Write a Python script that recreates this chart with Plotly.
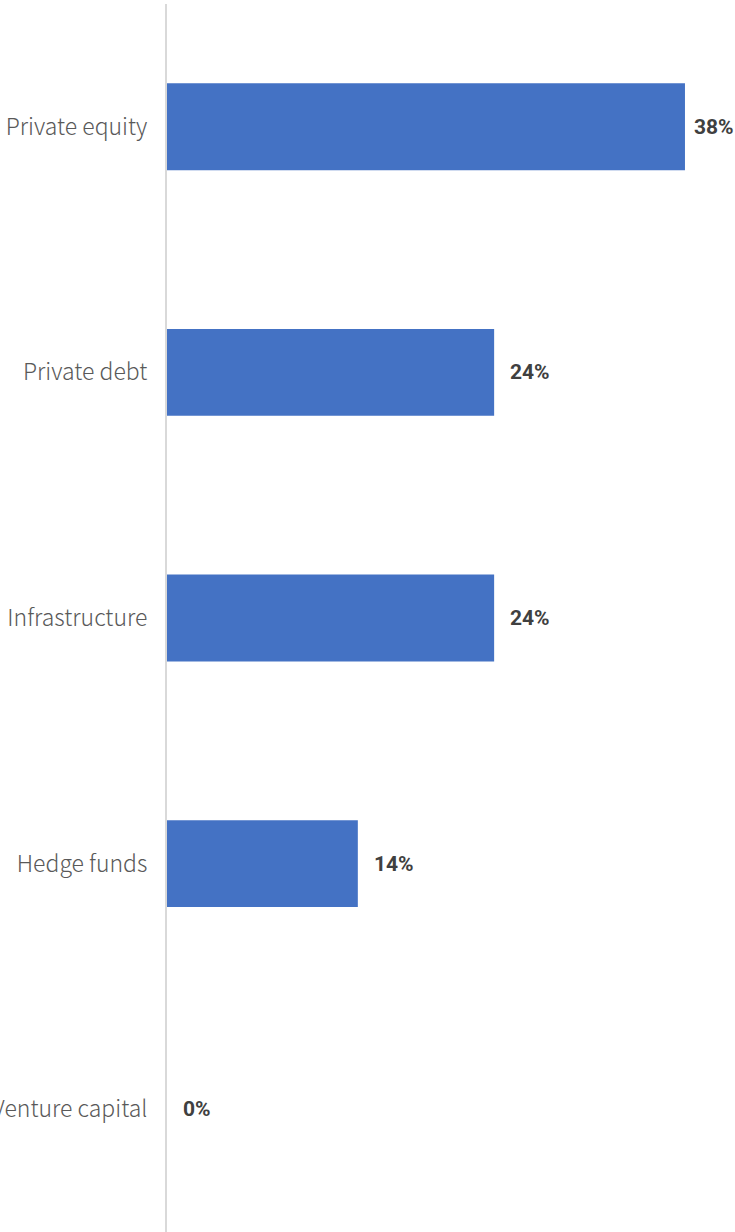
import plotly.graph_objects as go

# Share of respondents by alternative asset class
categories = ["Private equity", "Private debt", "Infrastructure", "Hedge funds", "Venture capital"]
values = [38, 24, 24, 14, 0]
value_labels = ["38%", "24%", "24%", "14%", "0%"]
label_shift = [9, 16, 16, 16, 16]

fig = go.Figure()
fig.add_trace(go.Bar(
    x=values,
    y=categories,
    orientation="h",
    marker=dict(color="#4472C4", line=dict(width=0)),
    hoverinfo="skip",
))

for v, c, t, s in zip(values, categories, value_labels, label_shift):
    fig.add_annotation(
        x=v, y=c, text=t, showarrow=False,
        xanchor="left", yanchor="middle", xshift=s - 2, yshift=0,
        font=dict(family="Roboto, Liberation Sans, sans-serif", size=21, color="#404040", weight="bold"),
    )

fig.update_layout(
    width=735, height=1232,
    margin=dict(l=167, r=0, t=4, b=0, autoexpand=False),
    paper_bgcolor="white",
    plot_bgcolor="white",
    bargap=0.646,
    showlegend=False,
    xaxis=dict(range=[0, 41.67], showgrid=False, zeroline=False, showticklabels=False,
               showline=False, fixedrange=True, automargin=False),
    yaxis=dict(autorange="reversed", showgrid=False, zeroline=False, automargin=False,
               showline=True, linecolor="#d9d9d9", linewidth=2,
               ticks="", ticklabelstandoff=13,
               tickfont=dict(family="Noto Sans CJK SC, sans-serif", size=23, color="#595959",
                             weight=300)),
)

fig.write_html("out.html")
